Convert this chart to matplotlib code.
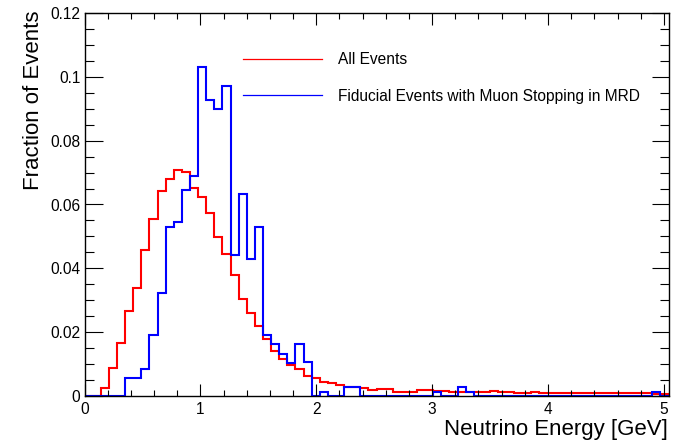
import numpy as np
import matplotlib

matplotlib.use('Agg')
import matplotlib.pyplot as plt
from matplotlib.ticker import MultipleLocator, FuncFormatter
from matplotlib.lines import Line2D

plt.rcParams['font.family'] = ['Liberation Sans', 'DejaVu Sans']

# 72 bins of 0.07 GeV starting at 0
bin_width = 0.07
n_bins = 72

# fraction of events per bin
all_events = [
    0, 0, 0.0024, 0.0089, 0.0167, 0.0266, 0.0338, 0.0458, 0.0556, 0.0641,
    0.0680, 0.0707, 0.0701, 0.0652, 0.0623, 0.0572, 0.0499, 0.0446, 0.0378, 0.0303,
    0.0260, 0.0218, 0.0180, 0.0141, 0.0115, 0.0097, 0.0085, 0.0064, 0.0056, 0.0044,
    0.0040, 0.0034, 0.0029, 0.0029, 0.0024, 0.0019, 0.0021, 0.0021, 0.0014, 0.0014,
    0.0014, 0.0019, 0.0019, 0.0016, 0.0016, 0.0014, 0.0014, 0.0014, 0.0011, 0.0011,
    0.0016, 0.0011, 0.0011, 0.0008, 0.0008, 0.0013, 0.0008, 0.0008, 0.0008, 0.0008,
    0.0008, 0.0008, 0.0008, 0.0008, 0.0008, 0.0010, 0.0008, 0.0008, 0.0008, 0.0008,
    0.0007, 0.0006,
]
fiducial_stopping = [
    0, 0, 0, 0, 0, 0.0057, 0.0057, 0.0086, 0.0192, 0.0322,
    0.0529, 0.0545, 0.0646, 0.0690, 0.1030, 0.0927, 0.0898, 0.0972, 0.0441, 0.0633,
    0.0428, 0.0529, 0.0191, 0.0164, 0.0132, 0.0104, 0.0162, 0.0105, 0, 0.0014,
    0, 0, 0.0028, 0.0028, 0, 0, 0, 0, 0, 0,
    0, 0, 0, 0.0013, 0, 0, 0.0028, 0.0014, 0, 0,
    0, 0, 0, 0, 0, 0, 0, 0, 0, 0,
    0, 0, 0, 0, 0, 0, 0, 0, 0, 0,
    0.0014, 0,
]
labels = ['All Events', 'Fiducial Events with Muon Stopping in MRD']

edges = np.arange(n_bins + 1) * bin_width

fig = plt.figure(figsize=(6.83, 4.40), dpi=100)
ax = fig.add_axes([84.5 / 683, 44 / 440, 584 / 683, 383 / 440])

ax.stairs(all_events, edges, baseline=0, color='red', lw=1.5)
ax.stairs(fiducial_stopping, edges, baseline=0, color='blue', lw=1.5)

ax.set_xlim(0, n_bins * bin_width)
ax.set_ylim(0, 0.12)

# ROOT-like axes
ax.xaxis.set_major_locator(MultipleLocator(1))
ax.xaxis.set_minor_locator(MultipleLocator(0.2))
ax.yaxis.set_major_locator(MultipleLocator(0.02))
ax.yaxis.set_minor_locator(MultipleLocator(0.005))
ax.yaxis.set_major_formatter(FuncFormatter(lambda v, p: '%g' % round(v, 4)))
ax.xaxis.set_major_formatter(FuncFormatter(lambda v, p: '%g' % v))
ax.tick_params(axis='both', which='both', direction='in', top=True, right=True,
               labelsize=11.2, width=0.8)
ax.tick_params(axis='x', which='major', length=8.3, pad=4)
ax.tick_params(axis='x', which='minor', length=4.1)
ax.tick_params(axis='y', which='major', length=12.6, pad=3)
ax.tick_params(axis='y', which='minor', length=6.3)
for s in ax.spines.values():
    s.set_linewidth(1.0)

fig.text(668 / 683, 1 - 435 / 440, 'Neutrino Energy [GeV]', fontsize=16,
         ha='right', va='baseline')
fig.text(34 / 683, 1 - 10 / 440, 'Fraction of Events', fontsize=16,
         rotation=90, ha='center', va='top')

handles = [Line2D([], [], color='red', lw=0.9), Line2D([], [], color='blue', lw=0.9)]
ax.legend(handles, labels, loc='upper left', bbox_to_anchor=(243 / 683, 1 - 52 / 440),
          bbox_transform=fig.transFigure, frameon=False, fontsize=11.2,
          handlelength=5.1, handletextpad=1.0, labelspacing=1.4, borderpad=0,
          borderaxespad=0)

fig.savefig('out.png', dpi=100)
